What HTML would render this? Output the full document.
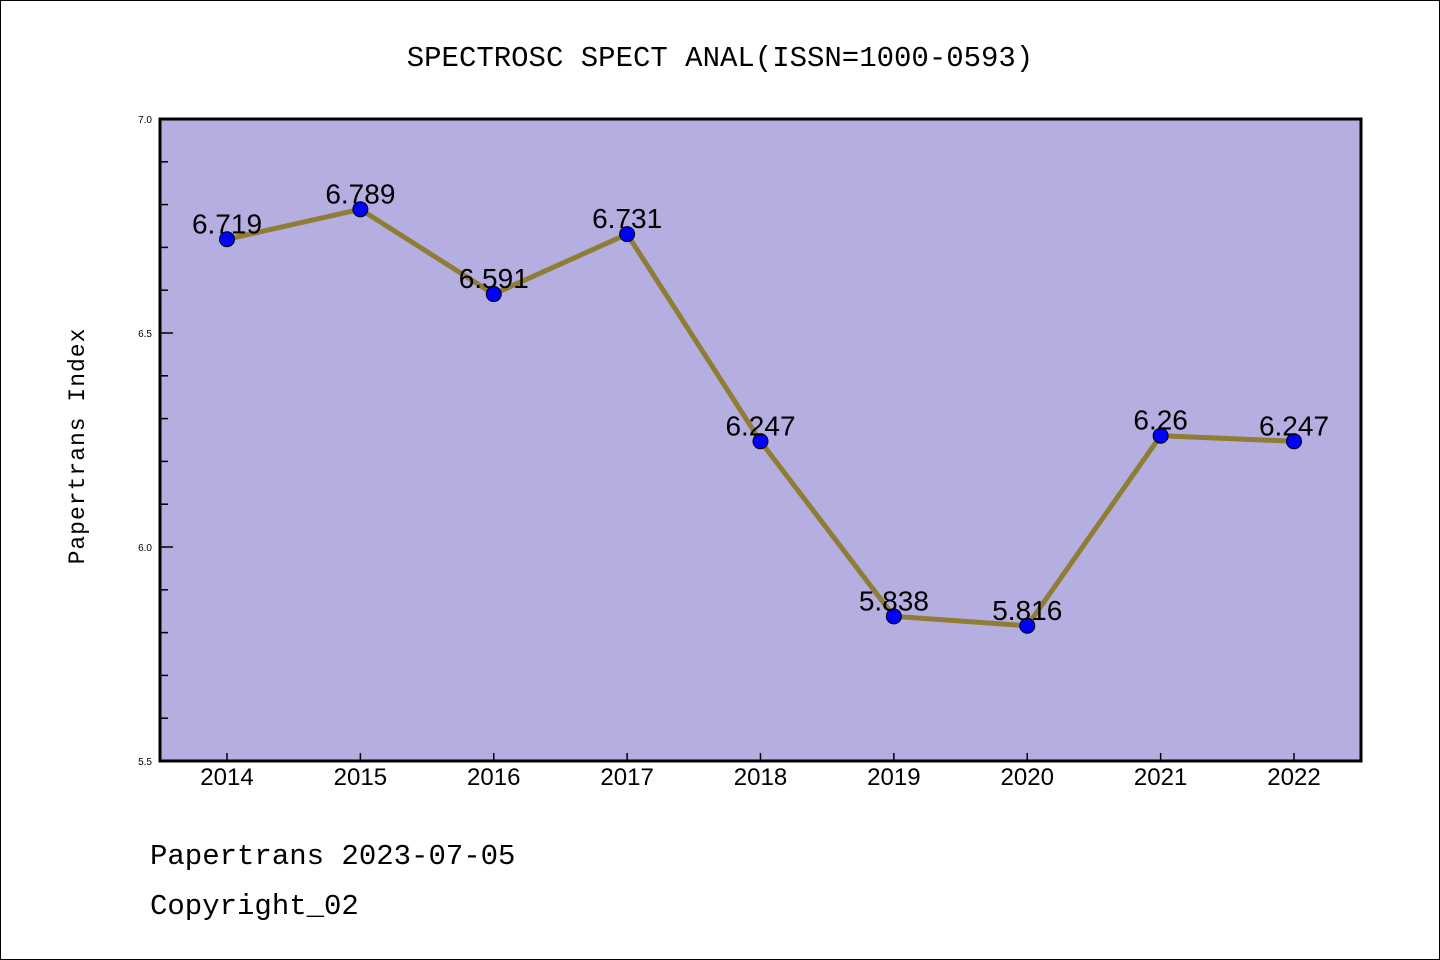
<!DOCTYPE html>
<html><head><meta charset="utf-8"><style>
body{margin:0;background:#fff}
svg{display:block;font-family:"Liberation Sans","WenQuanYi Zen Hei",sans-serif}
</style></head><body>
<svg id="chart" width="1440" height="960">
<rect x="0.5" y="0.5" width="1439" height="959" fill="#fff" stroke="#000"/>
<text x="720" y="66" text-anchor="middle" font-size="29" font-family="'WenQuanYi Zen Hei','Liberation Mono',monospace">SPECTROSC SPECT ANAL(ISSN=1000-0593)</text>
<rect x="160" y="119" width="1201" height="642" fill="#b5aee1"/>
<g id="grid"></g>
<polyline id="line" fill="none" stroke="#8f7d35" stroke-width="5"/>
<g id="pts"></g>
<rect x="160" y="119" width="1201" height="642" fill="none" stroke="#000" stroke-width="3"/>
<text transform="translate(84,446) rotate(-90)" text-anchor="middle" font-size="23" font-family="'WenQuanYi Zen Hei','Liberation Mono',monospace" letter-spacing="1">Papertrans Index</text>
<text x="150" y="864" font-size="29" font-family="'WenQuanYi Zen Hei','Liberation Mono',monospace">Papertrans 2023-07-05</text>
<text x="150" y="914" font-size="29" font-family="'WenQuanYi Zen Hei','Liberation Mono',monospace">Copyright_02</text>
</svg>
<script>
const years=["2014","2015","2016","2017","2018","2019","2020","2021","2022"];
const values=[6.719,6.789,6.591,6.731,6.247,5.838,5.816,6.26,6.247];
const labels=["6.719","6.789","6.591","6.731","6.247","5.838","5.816","6.26","6.247"];
const yTicks=["5.5","6.0","6.5","7.0"];
const ns="http://www.w3.org/2000/svg";
const X=i=>227+i*(1294-227)/8;
const Y=v=>761-(v-5.5)*(642/1.5);
const g=document.getElementById('grid'),p=document.getElementById('pts');
function mk(t,a,par){const e=document.createElementNS(ns,t);for(const k in a)e.setAttribute(k,a[k]);par.appendChild(e);return e;}
for(let k=0;k<=15;k++){const v=5.5+k*0.1,y=Y(v),maj=k%5==0;
 const l=mk('line',{x1:160,x2:160+(maj?13:8),y1:y,y2:y,stroke:'#000','stroke-width':1.5},g);
 
 }
yTicks.forEach(s=>{const t=mk('text',{x:152,y:Y(+s)+4,'text-anchor':'end','font-size':10},g);t.textContent=s;
 
 });
years.forEach((yr,i)=>{const l=mk('line',{x1:X(i),x2:X(i),y1:761,y2:753,stroke:'#000','stroke-width':1.5},g);
 
 
 const t=mk('text',{x:X(i),y:785,'text-anchor':'middle','font-size':24},g);t.textContent=yr;
 
 });
document.getElementById('line').setAttribute('points',values.map((v,i)=>X(i)+','+Y(v)).join(' '));
values.forEach((v,i)=>{const c=mk('circle',{cx:X(i),cy:Y(v),r:7.5,fill:'#0000ff',stroke:'#000','stroke-width':1},p);
 
 
 const t=mk('text',{x:X(i),y:Y(v)-6,'text-anchor':'middle','font-size':28,'font-family':"'WenQuanYi Zen Hei','Liberation Sans',sans-serif"},p);t.textContent=labels[i];
 
 });
</script>
</body></html>
